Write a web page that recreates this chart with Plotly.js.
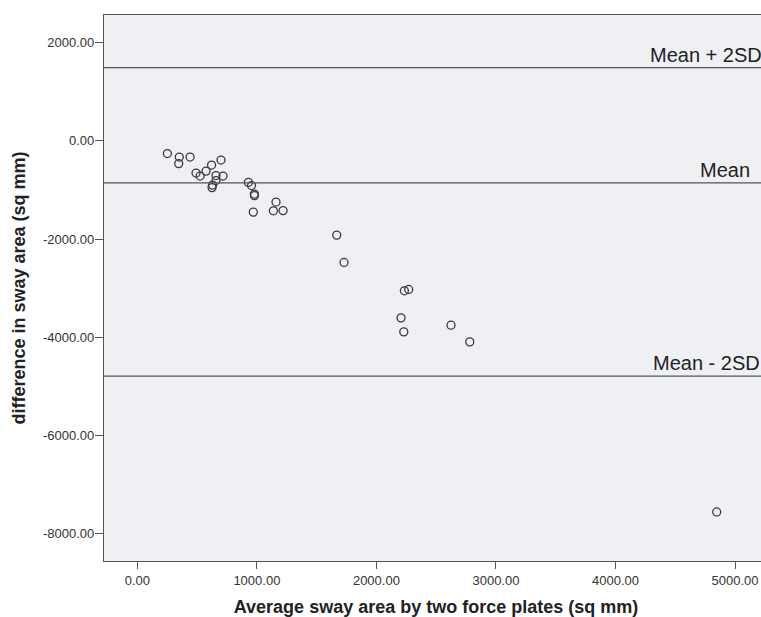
<!DOCTYPE html>
<html>
<head>
<meta charset="utf-8">
<script src="https://cdn.plot.ly/plotly-3.0.1.min.js"></script>
<style>html,body{margin:0;padding:0;background:#fff;overflow:hidden;width:761px;height:617px;}#chart{width:768px;height:617px;}</style>
</head>
<body>
<div id="chart"></div>
<script>
// Average sway area by two force plates (sq mm)
const avgArea = [251, 351, 346, 441, 491, 525, 575, 621, 700, 658, 717, 658, 629, 625,
  929, 955, 979, 980, 970, 1160, 1138, 1219, 1668, 1729, 2234, 2270, 2206, 2229, 2624, 2781, 4847];
// Difference in sway area (sq mm)
const diffArea = [-259, -330, -463, -330, -656, -717, -616, -493, -391, -707, -717, -809, -901, -952,
  -846, -911, -1084, -1115, -1451, -1247, -1425, -1421, -1920, -2477, -3055, -3027, -3606, -3891, -3755, -4095, -7560];

// Reference lines
const refNames = ["Mean + 2SD", "Mean", "Mean - 2SD"];
const refValues = [1490, -854, -4794];

// Tick labels
const xTickVals = [0, 1000, 2000, 3000, 4000, 5000];
const xTickText = ["0.00", "1000.00", "2000.00", "3000.00", "4000.00", "5000.00"];
const yTickVals = [2000, 0, -2000, -4000, -6000, -8000];
const yTickText = ["2000.00", "0.00", "-2000.00", "-4000.00", "-6000.00", "-8000.00"];

const lineColor = '#555';
const font = 'Liberation Sans, Arial, sans-serif';

const trace = {
  x: avgArea, y: diffArea, type: 'scatter', mode: 'markers',
  marker: {symbol: 'circle', size: 8, color: 'rgba(0,0,0,0)', line: {color: '#3a3a3a', width: 1.3}},
  hoverinfo: 'x+y', showlegend: false
};

const labelXShift = [-4, -16, -6];
const shapes = refValues.map(v => ({
  type: 'line', xref: 'paper', x0: 0, x1: 1, yref: 'y', y0: v, y1: v,
  line: {color: lineColor, width: 1.3}
}));
const annotations = refValues.map((v, i) => ({
  xref: 'paper', x: 1, xanchor: 'right', yref: 'y', y: v, yanchor: 'bottom',
  text: refNames[i], showarrow: false, xshift: labelXShift[i], yshift: 0,
  font: {family: font, size: 20, color: '#222'}
}));

const layout = {
  width: 768, height: 617,
  margin: {l: 104, r: 0, t: 15, b: 56},
  paper_bgcolor: '#ffffff', plot_bgcolor: '#eff0f4',
  font: {family: font, color: '#333'},
  showlegend: false,
  xaxis: {
    range: [-279, 5276], tickvals: xTickVals, ticktext: xTickText,
    showgrid: false, zeroline: false, showline: true, mirror: true,
    linecolor: lineColor, linewidth: 1.3,
    ticks: 'outside', ticklen: 7, tickcolor: lineColor, tickwidth: 1.3,
    tickfont: {family: font, size: 13, color: '#333'},
    title: {text: 'Average sway area by two force plates (sq mm)', standoff: 14,
      font: {family: font, size: 18, color: '#222', weight: 'bold'}}
  },
  yaxis: {
    range: [-8559, 2564], tickvals: yTickVals, ticktext: yTickText,
    showgrid: false, zeroline: false, showline: true, mirror: false,
    linecolor: lineColor, linewidth: 1.3,
    ticks: 'outside', ticklen: 8, tickcolor: lineColor, tickwidth: 1.3,
    ticklabelstandoff: -2,
    tickfont: {family: font, size: 13, color: '#333'},
    title: {text: 'difference in sway area (sq mm)', standoff: 12,
      font: {family: font, size: 18, color: '#222', weight: 'bold'}}
  },
  shapes: shapes,
  annotations: annotations
};

Plotly.newPlot('chart', [trace], layout, {displayModeBar: false});
</script>
</body>
</html>
